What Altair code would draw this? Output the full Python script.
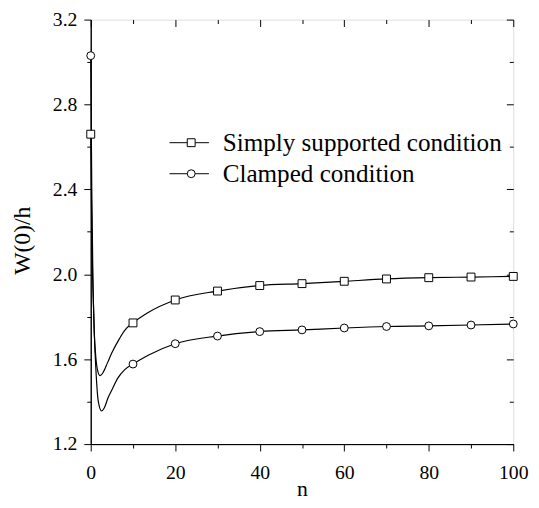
import altair as alt
import pandas as pd

series_names = ["Simply supported condition", "Clamped condition"]
series_shapes = ["square", "circle"]

# marker values (every 10 in n)
n_marks = [0, 10, 20, 30, 40, 50, 60, 70, 80, 90, 100]
ss_marks = [2.66, 1.771, 1.879, 1.921, 1.947, 1.956, 1.967, 1.978, 1.984, 1.987, 1.990]
cl_marks = [3.03, 1.577, 1.673, 1.709, 1.730, 1.738, 1.747, 1.754, 1.757, 1.761, 1.766]

# curve values
ss_curve_n = [0, 0.25, 0.5, 0.85, 1.2, 1.6, 2.2, 3, 4, 5, 6.8, 8, 10, 13.6, 20, 30, 40, 50, 60, 70, 80, 90, 100]
ss_curve_y = [2.66, 2.2, 1.95, 1.72, 1.61, 1.55, 1.523, 1.54, 1.585, 1.63, 1.697, 1.735, 1.771, 1.82, 1.879,
              1.921, 1.947, 1.956, 1.967, 1.978, 1.984, 1.987, 1.990]
cl_curve_n = [0, 0.25, 0.5, 0.85, 1.2, 1.8, 2.56, 3.2, 4.1, 5, 6.4, 8, 10, 13.6, 20, 30, 40, 50, 60, 70, 80, 90, 100]
cl_curve_y = [3.03, 2.4, 2.0, 1.72, 1.56, 1.40, 1.356, 1.37, 1.418, 1.455, 1.511, 1.55, 1.577, 1.619, 1.673,
              1.709, 1.730, 1.738, 1.747, 1.754, 1.757, 1.761, 1.766]

x_major = [0, 20, 40, 60, 80, 100]
x_minor = [10, 30, 50, 70, 90]
y_major = [1.2, 1.6, 2.0, 2.4, 2.8, 3.2]
y_minor = [1.4, 1.8, 2.2, 2.6, 3.0]

ss_pts = pd.DataFrame({"n": n_marks, "W": ss_marks, "series": series_names[0]})
cl_pts = pd.DataFrame({"n": n_marks, "W": cl_marks, "series": series_names[1]})
ss_df = pd.DataFrame({"n": ss_curve_n, "W": ss_curve_y, "series": series_names[0]})
cl_df = pd.DataFrame({"n": cl_curve_n, "W": cl_curve_y, "series": series_names[1]})

FONT = "Liberation Serif"
xs = alt.Scale(domain=[0, 100], nice=False, zero=False)
ys = alt.Scale(domain=[1.2, 3.2], nice=False, zero=False)


def axis(values, orient, labels, size, title=None, offset=0, domain=True):
    horiz = orient in ("top", "bottom")
    kw = dict(values=values, orient=orient, labels=labels, tickSize=size, grid=False,
              domain=domain, offset=offset, labelFont=FONT, labelFontSize=20, labelColor="black",
              labelPadding=12 if horiz else 7, titleFont=FONT, titleFontSize=22 if horiz else 24,
              titleFontWeight="normal", titleColor="black", tickColor="black",
              domainColor="black", labelFlush=False, titlePadding=4 if horiz else 18)
    kw["title"] = title
    if title is not None:
        if horiz:
            kw["titleY"] = 52
            kw["titleBaseline"] = "alphabetic"
        else:
            kw["titleY"] = 224
    return alt.Axis(**kw)


line_ss = alt.Chart(ss_df).mark_line(interpolate="monotone", color="black", strokeWidth=1.2).encode(
    x=alt.X("n:Q", scale=xs, axis=axis(x_major, "bottom", True, 7, "n")),
    y=alt.Y("W:Q", scale=ys, axis=axis(y_major, "left", True, 7, "W(0)/h")),
)
line_cl = alt.Chart(cl_df).mark_line(interpolate="monotone", color="black", strokeWidth=1.2).encode(
    x=alt.X("n:Q", scale=xs, axis=axis(x_minor, "bottom", False, 4)),
    y=alt.Y("W:Q", scale=ys, axis=axis(y_minor, "left", False, 4)),
)
pts_ss = alt.Chart(ss_pts).mark_point(shape=series_shapes[0], fill="white", stroke="black",
                                      strokeWidth=1, size=64, opacity=1).encode(
    x=alt.X("n:Q", scale=xs, axis=axis(x_major, "top", False, 7, offset=-7, domain=False)),
    y=alt.Y("W:Q", scale=ys, axis=axis(y_major, "right", False, 7, offset=-7, domain=False)),
)
pts_cl = alt.Chart(cl_pts).mark_point(shape=series_shapes[1], fill="white", stroke="black",
                                      strokeWidth=1, size=64, opacity=1).encode(
    x=alt.X("n:Q", scale=xs, axis=axis(x_minor, "top", False, 4, offset=-4, domain=False)),
    y=alt.Y("W:Q", scale=ys, axis=axis(y_minor, "right", False, 4, offset=-4, domain=False)),
)

# legend (line segment + marker + label per row)
legend_rows_y = [125, 156.5]
legend_layers = []
for name, shp, ly in zip(series_names, series_shapes, legend_rows_y):
    d = pd.DataFrame({"label": [name]})
    legend_layers.append(alt.Chart(d).mark_rule(color="black", strokeWidth=1).encode(
        x=alt.value(80), x2=alt.value(120), y=alt.value(ly)))
    legend_layers.append(alt.Chart(d).mark_point(shape=shp, fill="white", stroke="black",
                                                 strokeWidth=1, size=64, opacity=1).encode(
        x=alt.value(102), y=alt.value(ly)))
    legend_layers.append(alt.Chart(d).mark_text(align="left", baseline="middle", font=FONT,
                                                fontSize=25.5, color="black").encode(
        x=alt.value(134), y=alt.value(ly), text="label:N"))

chart = alt.layer(line_ss, line_cl, pts_ss, pts_cl, *legend_layers).resolve_axis(
    x="independent", y="independent"
).properties(
    width=429, height=431, autosize="none",
    padding={"left": 84, "top": 8, "right": 18, "bottom": 53},
).configure_view(stroke="black", strokeWidth=1).configure(background="white")

chart.save("out.html", embed_options={"renderer": "svg", "actions": False})
